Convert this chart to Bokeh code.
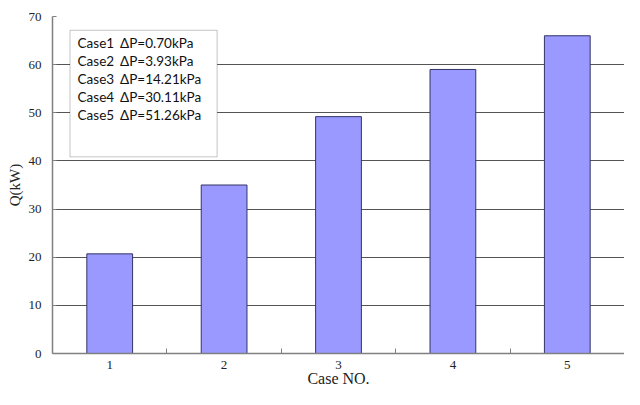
from bokeh.plotting import figure
from bokeh.models import ColumnDataSource, FixedTicker, BoxAnnotation, Label, Range1d
from bokeh.embed import file_html
from bokeh.resources import INLINE

# ---- data ----
cases = [1, 2, 3, 4, 5]
case_labels = ["1", "2", "3", "4", "5"]
q_kw = [20.7, 35.0, 49.2, 59.0, 66.0]
legend_cases = ["Case1", "Case2", "Case3", "Case4", "Case5"]
legend_dp = ["ΔP=0.70kPa", "ΔP=3.93kPa", "ΔP=14.21kPa", "ΔP=30.11kPa", "ΔP=51.26kPa"]
y_ticks = [0, 10, 20, 30, 40, 50, 60, 70]
x_title = "Case NO."
y_title = "Q(kW)"

SERIF = "Liberation Serif"

p = figure(width=624, height=389, output_backend="svg", toolbar_location=None,
           x_range=Range1d(0.5, 5.5), y_range=Range1d(0, 70),
           min_border_left=52, min_border_right=0, min_border_top=16, min_border_bottom=35)
p.outline_line_color = None
p.background_fill_color = "white"

src = ColumnDataSource(dict(x=cases, top=q_kw))
p.vbar(x="x", top="top", width=0.4, bottom=0, source=src,
       fill_color="#9999FF", line_color="#333366", line_width=1)

# axes
p.xaxis.ticker = FixedTicker(ticks=cases, minor_ticks=[1.5, 2.5, 3.5, 4.5])
p.xaxis.major_label_overrides = {c: l for c, l in zip(cases, case_labels)}
p.xaxis.major_tick_in = 0
p.xaxis.major_tick_out = 0
p.xaxis.minor_tick_in = 5
p.xaxis.minor_tick_out = 0
p.xaxis.minor_tick_line_color = "#808080"
p.xaxis.axis_line_color = "#808080"
p.xaxis.axis_line_width = 1.5
p.xaxis.major_label_text_font = SERIF
p.xaxis.major_label_text_font_size = "13px"
p.xaxis.major_label_text_color = "#222222"
p.xaxis.major_label_standoff = 7
p.xaxis.axis_label = x_title
p.xaxis.axis_label_text_font = SERIF
p.xaxis.axis_label_text_font_size = "16px"
p.xaxis.axis_label_text_font_style = "normal"
p.xaxis.axis_label_text_color = "#222222"
p.xaxis.axis_label_standoff = -2

p.yaxis.ticker = FixedTicker(ticks=y_ticks)
p.yaxis.major_tick_in = 4
p.yaxis.major_tick_out = 0
p.yaxis.minor_tick_line_color = None
p.yaxis.major_tick_line_color = "#808080"
p.yaxis.axis_line_color = "#808080"
p.yaxis.axis_line_width = 1.5
p.yaxis.major_label_text_font = SERIF
p.yaxis.major_label_text_font_size = "13px"
p.yaxis.major_label_text_color = "#222222"
p.yaxis.major_label_standoff = 11
p.yaxis.axis_label = y_title
p.yaxis.axis_label_text_font = SERIF
p.yaxis.axis_label_text_font_size = "15px"
p.yaxis.axis_label_text_font_style = "normal"
p.yaxis.axis_label_text_color = "#222222"
p.yaxis.axis_label_standoff = 3

p.xgrid.grid_line_color = None
p.ygrid.ticker = FixedTicker(ticks=y_ticks[1:-1])
p.ygrid.grid_line_color = "#555555"
p.ygrid.grid_line_width = 1

# legend box (data coordinates of the frame)
box = BoxAnnotation(left=0.653, right=1.939, bottom=40.85, top=67.14,
                    fill_color="white", fill_alpha=1.0,
                    line_color="#404040", line_width=1, level="annotation")
p.add_layout(box)
y0, step = 64.45, 3.727
for i, (c, d) in enumerate(zip(legend_cases, legend_dp)):
    for xx, t in ((0.719, c), (1.091, d)):
        p.add_layout(Label(x=xx, y=y0 - i * step, text=t, text_font="Lato",
                           text_font_size="13.5px", text_baseline="middle",
                           text_color="#111111", level="annotation"))

open("out.html", "w").write(file_html(p, INLINE))
